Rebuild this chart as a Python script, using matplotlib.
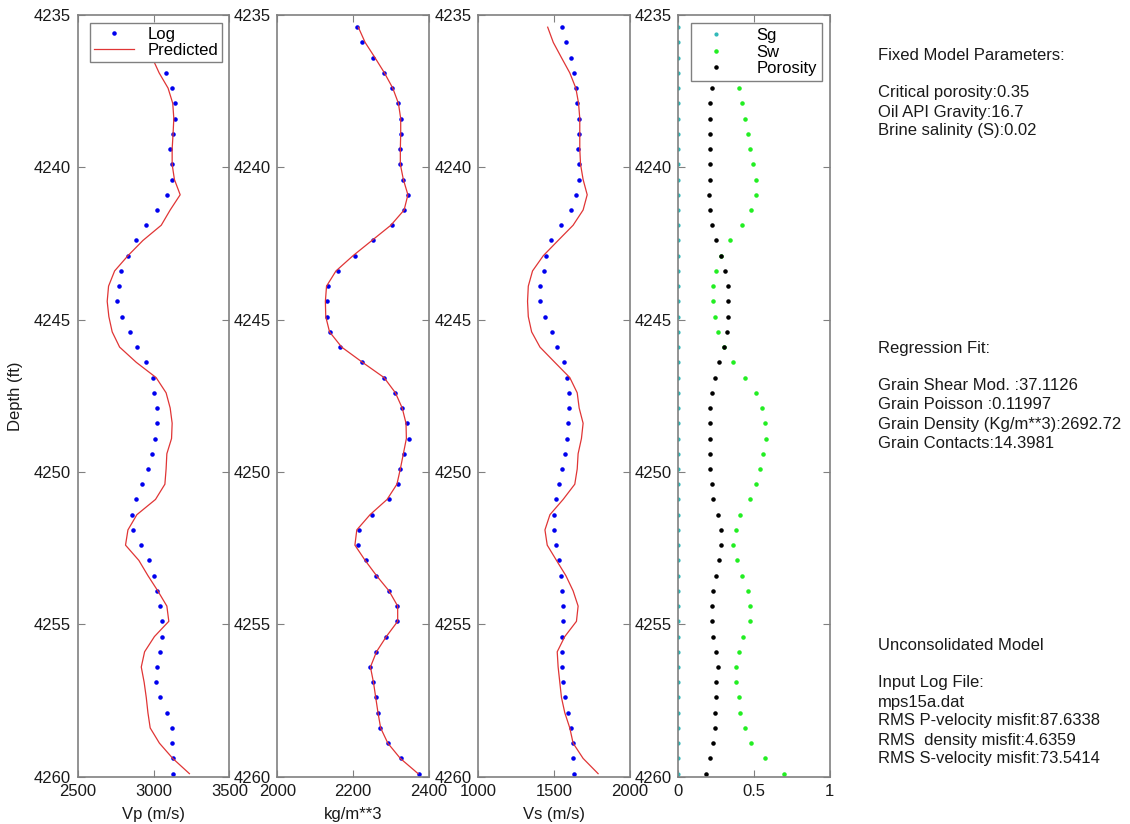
import matplotlib
matplotlib.use("Agg")
import matplotlib.pyplot as plt

plt.rcParams["font.family"] = ["Liberation Sans", "DejaVu Sans"]
plt.rcParams["font.size"] = 12

# sample depths (ft)
depth = [4235.4, 4235.9, 4236.4, 4236.9, 4237.4, 4237.9, 4238.4, 4238.9, 4239.4, 4239.9,
         4240.4, 4240.9, 4241.4, 4241.9, 4242.4, 4242.9, 4243.4, 4243.9, 4244.4, 4244.9,
         4245.4, 4245.9, 4246.4, 4246.9, 4247.4, 4247.9, 4248.4, 4248.9, 4249.4, 4249.9,
         4250.4, 4250.9, 4251.4, 4251.9, 4252.4, 4252.9, 4253.4, 4253.9, 4254.4, 4254.9,
         4255.4, 4255.9, 4256.4, 4256.9, 4257.4, 4257.9, 4258.4, 4258.9, 4259.4, 4259.9]

vp_log = [3020, 3040, 3060, 3082, 3118, 3142, 3144, 3126, 3109, 3120,
          3124, 3087, 3023, 2951, 2885, 2830, 2786, 2768, 2757, 2792,
          2843, 2893, 2951, 2997, 3003, 3019, 3023, 3010, 2988, 2962,
          2926, 2880, 2858, 2865, 2913, 2970, 2999, 3025, 3043, 3054,
          3056, 3045, 3023, 3014, 3045, 3085, 3118, 3118, 3126, 3129]
vp_pred = [2940, 2965, 2990, 3036, 3095, 3126, 3133, 3128, 3122, 3122,
           3137, 3175, 3109, 3050, 2929, 2830, 2742, 2702, 2693, 2704,
           2726, 2775, 2885, 3016, 3082, 3109, 3122, 3118, 3087, 3082,
           3074, 3012, 2889, 2830, 2814, 2902, 2962, 3027, 3087, 3100,
           3005, 2940, 2918, 2937, 2951, 2962, 2977, 3038, 3126, 3236]

rho_log = [2210, 2225, 2253, 2281, 2303, 2319, 2327, 2327, 2324, 2324,
           2332, 2346, 2334, 2303, 2252, 2204, 2161, 2134, 2130, 2132,
           2139, 2165, 2223, 2283, 2312, 2329, 2343, 2349, 2335, 2325,
           2318, 2294, 2249, 2217, 2214, 2235, 2261, 2296, 2317, 2317,
           2286, 2260, 2244, 2253, 2260, 2265, 2272, 2292, 2327, 2375]
rho_pred = [2214, 2232, 2258, 2283, 2305, 2320, 2326, 2326, 2325, 2325,
            2333, 2345, 2335, 2300, 2250, 2200, 2155, 2130, 2127, 2128,
            2138, 2170, 2225, 2282, 2312, 2330, 2340, 2341, 2333, 2325,
            2316, 2290, 2245, 2210, 2205, 2232, 2262, 2295, 2318, 2318,
            2288, 2262, 2246, 2254, 2260, 2266, 2273, 2292, 2325, 2372]

vs_log = [1554, 1578, 1615, 1635, 1644, 1653, 1662, 1662, 1659, 1664,
          1662, 1646, 1611, 1549, 1481, 1446, 1431, 1409, 1409, 1442,
          1484, 1519, 1567, 1587, 1596, 1596, 1593, 1587, 1574, 1554,
          1532, 1516, 1503, 1503, 1512, 1532, 1543, 1552, 1558, 1558,
          1554, 1554, 1554, 1560, 1574, 1593, 1615, 1622, 1626, 1631]
vs_pred = [1458, 1495, 1549, 1604, 1644, 1662, 1670, 1670, 1670, 1675,
           1692, 1719, 1692, 1626, 1527, 1429, 1358, 1330, 1325, 1330,
           1352, 1407, 1505, 1604, 1653, 1666, 1692, 1681, 1659, 1653,
           1637, 1560, 1473, 1440, 1455, 1516, 1578, 1626, 1659, 1648,
           1571, 1521, 1527, 1538, 1549, 1571, 1604, 1626, 1692, 1791]

sg = [0.0] * 50
sw = [0.36, 0.37, 0.38, 0.39, 0.40, 0.42, 0.44, 0.46, 0.47, 0.49,
      0.51, 0.51, 0.48, 0.42, 0.34, 0.28, 0.25, 0.23, 0.23, 0.24,
      0.26, 0.30, 0.36, 0.44, 0.51, 0.55, 0.57, 0.58, 0.56, 0.54,
      0.51, 0.47, 0.41, 0.38, 0.36, 0.39, 0.42, 0.46, 0.47, 0.47,
      0.43, 0.40, 0.38, 0.38, 0.40, 0.41, 0.44, 0.48, 0.57, 0.70]
porosity = [0.22, 0.22, 0.22, 0.22, 0.22, 0.21, 0.21, 0.21, 0.21, 0.21,
            0.21, 0.20, 0.21, 0.22, 0.25, 0.28, 0.31, 0.33, 0.33, 0.33,
            0.32, 0.30, 0.27, 0.24, 0.22, 0.21, 0.21, 0.21, 0.21, 0.21,
            0.22, 0.23, 0.26, 0.28, 0.28, 0.27, 0.25, 0.23, 0.22, 0.22,
            0.23, 0.25, 0.26, 0.25, 0.25, 0.24, 0.24, 0.23, 0.21, 0.18]

panel_xlim = [(2500, 3500), (2000, 2400), (1000, 2000), (0, 1)]
panel_xticks = [[2500, 3000, 3500], [2000, 2200, 2400], [1000, 1500, 2000], [0, 0.5, 1]]
panel_xticklabels = [None, None, None, ["0", "0.5", "1"]]
panel_xlabels = ["Vp (m/s)", "kg/m**3", "Vs (m/s)", ""]
panel_left = [0.0690, 0.2454, 0.4233, 0.6003]

fixed_text = ["Fixed Model Parameters:", "",
              "Critical porosity:0.35", "Oil API Gravity:16.7", "Brine salinity (S):0.02"]
regress_text = ["Regression Fit:", "",
                "Grain Shear Mod. :37.1126", "Grain Poisson :0.11997",
                "Grain Density (Kg/m**3):2692.72", "Grain Contacts:14.3981"]
model_text = ["Unconsolidated Model", "", "Input Log File:", "mps15a.dat",
              "RMS P-velocity misfit:87.6338", "RMS  density misfit:4.6359",
              "RMS S-velocity misfit:73.5414"]

GRAY = "#808080"
BLUE = "#0000ee"
RED = "#e03535"

fig = plt.figure(figsize=(11.3, 8.24), dpi=100)
axes = []
for i in range(4):
    ax = fig.add_axes([panel_left[i], 0.0574, 0.1340, 0.9244])
    ax.set_xlim(*panel_xlim[i])
    ax.set_ylim(4260, 4235)
    ax.set_yticks([4235, 4240, 4245, 4250, 4255, 4260])
    ax.set_xticks(panel_xticks[i])
    if panel_xticklabels[i]:
        ax.set_xticklabels(panel_xticklabels[i])
    ax.tick_params(direction="in", length=5, width=0.8, color=GRAY,
                   labelcolor="#1a1a1a", top=True, right=True, pad=5)
    for s in ax.spines.values():
        s.set_color(GRAY)
        s.set_linewidth(1.2)
    if panel_xlabels[i]:
        ax.set_xlabel(panel_xlabels[i], labelpad=6, color="#1a1a1a")
    axes.append(ax)

axes[0].set_ylabel("Depth (ft)", labelpad=8, color="#1a1a1a")

log_series = [vp_log, rho_log, vs_log]
pred_series = [vp_pred, rho_pred, vs_pred]
for i in range(3):
    ax = axes[i]
    ax.plot(log_series[i], depth, ".", color=BLUE, markersize=4.5, label="Log")
    ax.plot(pred_series[i], depth, "-", color=RED, lw=0.9, label="Predicted")

leg = axes[0].legend(loc="upper right", bbox_to_anchor=(0.954, 0.9895), borderaxespad=0,
                     fancybox=False, framealpha=1, edgecolor=GRAY, handlelength=2.4,
                     labelspacing=0.05, borderpad=0.25, handletextpad=0.8)
leg.get_frame().set_linewidth(1.0)

ax = axes[3]
ax.plot(sg, depth, ".", color="#30b8b8", markersize=4, label="Sg")
ax.plot(sw, depth, ".", color="#22ee22", markersize=4.5, label="Sw")
ax.plot(porosity, depth, ".", color="black", markersize=4.5, label="Porosity")
leg4 = ax.legend(loc="upper right", bbox_to_anchor=(0.947, 0.9895), borderaxespad=0,
                 fancybox=False, framealpha=1, edgecolor=GRAY, handlelength=2.4,
                 labelspacing=0.1, borderpad=0.3, handletextpad=1.2)
leg4.get_frame().set_linewidth(1.0)


def put_block(lines, y_top_px):
    for k, line in enumerate(lines):
        if line:
            fig.text(878 / 1130, 1 - (y_top_px + 19 * k) / 824, line,
                     ha="left", va="center", color="#1a1a1a")


put_block(fixed_text, 55)
put_block(regress_text, 348)
put_block(model_text, 645)

fig.savefig("out.png", dpi=100)
